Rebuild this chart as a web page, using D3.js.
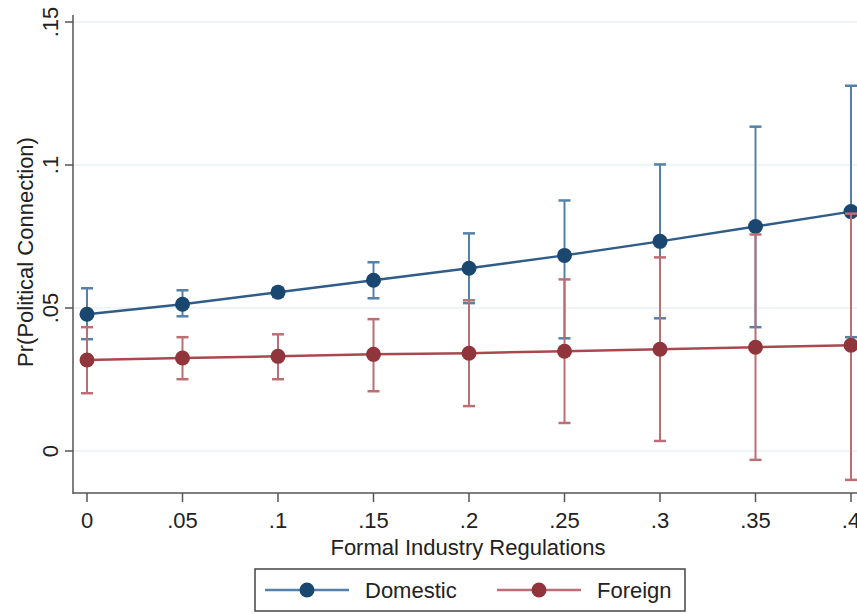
<!DOCTYPE html>
<html>
<head>
<meta charset="utf-8">
<script src="https://cdn.jsdelivr.net/npm/d3@7"></script>
<style>
  body { margin: 0; background: #fff; }
  svg { display: block; font-family: "Liberation Sans", Arial, sans-serif; }
</style>
</head>
<body>
<div id="chart"></div>
<script>
// Formal industry regulation levels (x)
const regLevels = [0, 0.05, 0.1, 0.15, 0.2, 0.25, 0.3, 0.35, 0.4];
const xTickLabels = ['0', '.05', '.1', '.15', '.2', '.25', '.3', '.35', '.4'];
const yTicks = [0, 0.05, 0.1, 0.15];
const yTickLabels = ['0', '.05', '.1', '.15'];

// Domestic firms: margin and 95% CI
const domesticPr = [0.0478, 0.0513, 0.0555, 0.0597, 0.0639, 0.0684, 0.0733, 0.0785, 0.0837];
const domesticLo = [0.0391, 0.0471, 0.0540, 0.0534, 0.0517, 0.0394, 0.0464, 0.0433, 0.0398];
const domesticHi = [0.0569, 0.0562, 0.0570, 0.0660, 0.0761, 0.0876, 0.1002, 0.1134, 0.1277];

// Foreign firms: margin and 95% CI
const foreignPr = [0.0318, 0.0325, 0.0331, 0.0338, 0.0342, 0.0349, 0.0356, 0.0363, 0.0370];
const foreignLo = [0.0202, 0.0251, 0.0251, 0.0209, 0.0157, 0.0098, 0.0035, -0.0031, -0.0101];
const foreignHi = [0.0433, 0.0398, 0.0408, 0.0461, 0.0527, 0.0600, 0.0677, 0.0757, 0.0830];

const width = 857, height = 614;
const fontSize = 22;

const x = d3.scaleLinear().domain([0, 0.4]).range([87, 851]);
const y = d3.scaleLinear().domain([0, 0.15]).range([451, 22]);

const svg = d3.select('#chart').append('svg')
    .attr('width', width)
    .attr('height', height);

// light gridlines
svg.append('g')
    .selectAll('line')
    .data(yTicks)
    .join('line')
    .attr('x1', 74).attr('x2', width)
    .attr('y1', d => y(d)).attr('y2', d => y(d))
    .attr('stroke', '#eaf2f3')
    .attr('stroke-width', 1.5);

// y axis
const yAxis = svg.append('g').attr('transform', 'translate(73,0)');
yAxis.append('line')
    .attr('x1', 0).attr('x2', 0).attr('y1', 15).attr('y2', 494)
    .attr('stroke', '#555').attr('stroke-width', 1.5);
yAxis.selectAll('g.tick')
    .data(yTicks)
    .join('g')
    .attr('class', 'tick')
    .attr('transform', d => `translate(0,${y(d)})`)
    .call(g => g.append('line').attr('x1', -8).attr('x2', 0)
        .attr('stroke', '#555').attr('stroke-width', 1.5))
    .call(g => g.append('text')
        .attr('transform', 'translate(-15,0) rotate(-90)')
        .attr('text-anchor', 'middle')
        .attr('font-size', fontSize)
        .attr('fill', '#222')
        .text((d, i) => yTickLabels[i]));

svg.append('text')
    .attr('transform', 'translate(33,252) rotate(-90)')
    .attr('text-anchor', 'middle')
    .attr('font-size', fontSize)
    .attr('fill', '#222')
    .text('Pr(Political Connection)');

// x axis
const xAxis = svg.append('g').attr('transform', 'translate(0,493)');
xAxis.append('line')
    .attr('x1', 73).attr('x2', width).attr('y1', 0).attr('y2', 0)
    .attr('stroke', '#555').attr('stroke-width', 1.5);
xAxis.selectAll('g.tick')
    .data(regLevels)
    .join('g')
    .attr('class', 'tick')
    .attr('transform', d => `translate(${x(d)},0)`)
    .call(g => g.append('line').attr('y1', 0).attr('y2', 9)
        .attr('stroke', '#555').attr('stroke-width', 1.5))
    .call(g => g.append('text')
        .attr('y', 35)
        .attr('text-anchor', 'middle')
        .attr('font-size', fontSize)
        .attr('fill', '#222')
        .text((d, i) => xTickLabels[i]));

svg.append('text')
    .attr('x', 468).attr('y', 555)
    .attr('text-anchor', 'middle')
    .attr('font-size', fontSize)
    .attr('fill', '#222')
    .text('Formal Industry Regulations');

const series = [
    { name: 'Domestic', pr: domesticPr, lo: domesticLo, hi: domesticHi, color: '#1a476f', line: '#2f5d88', bar: '#5580a8' },
    { name: 'Foreign', pr: foreignPr, lo: foreignLo, hi: foreignHi, color: '#90353b', line: '#a9494f', bar: '#bd6d74' }
];

const line = d3.line().x(d => x(d[0])).y(d => y(d[1]));

series.forEach(s => {
    const g = svg.append('g');
    const pts = regLevels.map((r, i) => ({ r, pr: s.pr[i], lo: s.lo[i], hi: s.hi[i] }));

    g.selectAll('line.ci')
        .data(pts)
        .join('line')
        .attr('class', 'ci')
        .attr('x1', d => x(d.r)).attr('x2', d => x(d.r))
        .attr('y1', d => y(d.lo)).attr('y2', d => y(d.hi))
        .attr('stroke', s.bar).attr('stroke-width', 2);

    ['lo', 'hi'].forEach(k => {
        g.selectAll(`line.cap-${k}`)
            .data(pts)
            .join('line')
            .attr('class', `cap-${k}`)
            .attr('x1', d => x(d.r) - 6).attr('x2', d => x(d.r) + 6)
            .attr('y1', d => y(d[k])).attr('y2', d => y(d[k]))
            .attr('stroke', s.bar).attr('stroke-width', 2.5);
    });

    g.append('path')
        .datum(pts.map(d => [d.r, d.pr]))
        .attr('d', line)
        .attr('fill', 'none')
        .attr('stroke', s.line)
        .attr('stroke-width', 2.5);

    g.selectAll('circle')
        .data(pts)
        .join('circle')
        .attr('cx', d => x(d.r)).attr('cy', d => y(d.pr))
        .attr('r', 7.5)
        .attr('fill', s.color);
});

// legend
const legend = svg.append('g');
legend.append('rect')
    .attr('x', 255).attr('y', 569).attr('width', 430).attr('height', 42)
    .attr('fill', '#fff').attr('stroke', '#444').attr('stroke-width', 1.5);

const legendX = [265, 497];
series.forEach((s, i) => {
    const lg = legend.append('g').attr('transform', `translate(${legendX[i]},590)`);
    lg.append('line').attr('x1', 0).attr('x2', 84)
        .attr('stroke', s.bar).attr('stroke-width', 2.5);
    lg.append('circle').attr('cx', 42).attr('r', 7.5).attr('fill', s.color);
    lg.append('text')
        .attr('x', 100).attr('y', 8)
        .attr('font-size', fontSize)
        .attr('fill', '#222')
        .text(s.name);
});
</script>
</body>
</html>
